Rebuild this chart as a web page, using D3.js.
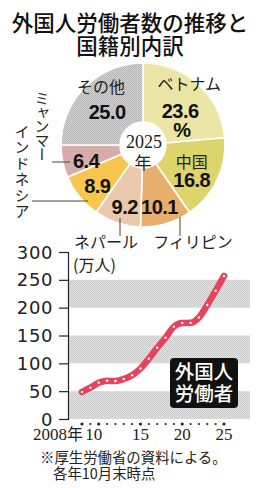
<!DOCTYPE html>
<html><head><meta charset="utf-8">
<script src="https://cdn.jsdelivr.net/npm/d3@7"></script>
<style>
html,body{margin:0;padding:0;background:#fff;}
svg{display:block;}
</style></head>
<body>
<script>
// ---- data ----
const pieCategories = ["ベトナム","中国","フィリピン","ネパール","インドネシア","ミャンマー","その他"];
const pieValues = [23.6,16.8,10.1,9.2,8.9,6.4,25.0];
const pieYear = "2025";
const years = [2008,2009,2010,2011,2012,2013,2014,2015,2016,2017,2018,2019,2020,2021,2022,2023,2024,2025];
const workers = [48.6,56.3,65.0,68.6,68.2,71.8,78.8,90.8,108.4,127.9,146.0,165.9,172.4,172.7,182.3,204.9,230.3,257.0];
const yTicks = [0,50,100,150,200,250,300];
const xTickYears = [2008,2010,2015,2020,2025];
const xTickLabels = ["2008年","10","15","20","25"];

// ---- styles ----
const pieColors = ["#ece6a6","#ddd46c","#e7ae6c","#e9c8ab","#f8c64e","#d6adab","url(#grayPat)"];
const W=259,H=488;
const svg=d3.select("body").append("svg").attr("width",W).attr("height",H);
const defs=svg.append("defs");
function checker(id,a,b){
  const p=defs.append("pattern").attr("id",id).attr("width",2).attr("height",2).attr("patternUnits","userSpaceOnUse");
  p.append("rect").attr("width",2).attr("height",2).attr("fill",a);
  p.append("rect").attr("width",1).attr("height",1).attr("fill",b);
  p.append("rect").attr("x",1).attr("y",1).attr("width",1).attr("height",1).attr("fill",b);
}
checker("grayPat","#d2d2d2","#b6b6b6");
checker("bandPat","#e4e4e4","#c9c9c9");

const JP="'Noto Sans CJK JP','Noto Sans',sans-serif";
const SERIF="'Liberation Serif','DejaVu Serif',serif";
const NUM="'Liberation Sans',Arial,sans-serif";

// title
const title=svg.append("g").attr("font-family",JP).attr("font-weight",500).attr("font-size",21.5).attr("text-anchor","middle").attr("fill","#111");
title.append("text").attr("x",130).attr("y",31).text("外国人労働者数の推移と");
title.append("text").attr("x",130).attr("y",54).text("国籍別内訳");

// ---- pie ----
const cx=143, cy=145, R=82, r0=23;
const pie=d3.pie().sort(null).value(d=>d)(pieValues);
const arc=d3.arc().innerRadius(r0).outerRadius(R);
const color=d3.scaleOrdinal().domain(pieCategories).range(pieColors);
const pg=svg.append("g").attr("transform",`translate(${cx},${cy})`);
pg.selectAll("path").data(pie).join("path")
  .attr("d",arc).attr("fill",(d,i)=>color(pieCategories[i]))
  .attr("stroke","#fff").attr("stroke-width",1.6);

// label placement (offsets from centroid of a label arc)
const labelArc=d3.arc().innerRadius(55).outerRadius(55);
const valOff=[[0,14],[-1,19],[1,16],[-1,17],[-3,13],[-3,12],[3,13]];
const nameOff=[[9,-14],[-1,0],null,null,null,null,[-3,-13]];
pie.forEach((d,i)=>{
  const [x,y]=labelArc.centroid(d);
  const vo=valOff[i];
  pg.append("text").attr("x",x+vo[0]).attr("y",y+vo[1])
    .attr("font-family",NUM).attr("font-weight","bold").attr("font-size",20)
    .attr("text-anchor","middle").attr("letter-spacing",-0.5).attr("fill","#111")
    .text(pieValues[i].toFixed(1));
  if(i===0){
    pg.append("text").attr("x",x+2).attr("y",y+33)
      .attr("font-family",NUM).attr("font-weight","bold").attr("font-size",20)
      .attr("text-anchor","middle").attr("fill","#111").text("%");
  }
  const no=nameOff[i];
  if(no){
    pg.append("text").attr("x",x+no[0]).attr("y",y+no[1])
      .attr("font-family",JP).attr("font-size",16).attr("text-anchor","middle").attr("fill","#222")
      .text(pieCategories[i]);
  }
});
// center
pg.append("text").attr("x",1).attr("y",3).attr("font-family",SERIF).attr("font-size",18).attr("text-anchor","middle").attr("fill","#222").text(pieYear);
pg.append("text").attr("x",0).attr("y",24).attr("font-family",JP).attr("font-size",17).attr("text-anchor","middle").attr("fill","#222").text("年");

// outside labels with leader lines
const lg=svg.append("g").attr("stroke","#444").attr("stroke-width",1);
lg.append("line").attr("x1",120).attr("x2",120).attr("y1",218).attr("y2",236);
lg.append("line").attr("x1",180).attr("x2",180).attr("y1",217).attr("y2",236);
lg.append("line").attr("x1",52).attr("x2",70).attr("y1",162).attr("y2",162);
lg.append("line").attr("x1",32).attr("x2",88).attr("y1",201).attr("y2",201);
svg.append("text").attr("x",106).attr("y",248).attr("font-family",JP).attr("font-size",16).attr("text-anchor","middle").attr("fill","#222").text(pieCategories[3]);
svg.append("text").attr("x",193).attr("y",248).attr("font-family",JP).attr("font-size",16).attr("text-anchor","middle").attr("fill","#222").text(pieCategories[2]);
function vtext(str,x,y0,sz,ls){
  svg.append("text").attr("x",x).attr("y",y0)
    .attr("font-family",JP).attr("font-size",sz).attr("fill","#222")
    .attr("letter-spacing",ls)
    .style("writing-mode","vertical-rl").style("text-orientation","upright")
    .text(str);
}
vtext(pieCategories[5],42,91,15,-1);
vtext(pieCategories[4],22,124,15,1);

// ---- line chart ----
const x=d3.scaleLinear().domain([2008,2025]).range([82,224]);
const y=d3.scaleLinear().domain([0,300]).range([419,252]);
const plotL=68, plotR=250;
const bands=[[0,50],[100,150],[200,250]];
svg.append("g").selectAll("rect").data(bands).join("rect")
  .attr("x",plotL).attr("width",plotR-plotL)
  .attr("y",d=>y(d[1])).attr("height",d=>y(d[0])-y(d[1]))
  .attr("fill","url(#bandPat)");
const yAxis=svg.append("g").attr("transform",`translate(${plotL},0)`)
  .call(d3.axisLeft(y).tickValues(yTicks).tickSize(9).tickPadding(6));
yAxis.select(".domain").attr("stroke","#222").attr("stroke-width",1.2);
yAxis.selectAll(".tick line").attr("stroke","#222").attr("stroke-width",1.2);
yAxis.selectAll("text").attr("font-family","'DejaVu Sans',sans-serif").attr("font-size",18).attr("fill","#222").attr("letter-spacing",0.6).attr("dy","0.34em");
svg.append("text").attr("x",73).attr("y",271).attr("font-family",JP).attr("font-size",16).attr("fill","#222").text("(万人)");

// x tick dots
svg.append("g").selectAll("circle").data(years).join("circle")
  .attr("cx",d=>x(d)).attr("cy",424).attr("r",d=>xTickYears.includes(d)?1.6:1.1).attr("fill","#222");
const xl=svg.append("g").attr("font-family",SERIF).attr("font-size",17).attr("fill","#222");
xTickYears.forEach((yr,i)=>{
  if(i===0){
    const t=xl.append("text").attr("x",x(yr)+1).attr("y",440).attr("text-anchor","end");
    t.append("tspan").text(xTickLabels[0].replace("年",""));
    t.append("tspan").attr("font-family",JP).attr("font-size",16).text("年");
  } else {
    xl.append("text").attr("x",x(yr)+(i===1?-5:0)).attr("y",440).attr("text-anchor","middle").text(xTickLabels[i]);
  }
});

// line
const line=d3.line().x((d,i)=>x(years[i])).y(d=>y(d)).curve(d3.curveMonotoneX);
svg.append("path").attr("d",line(workers)).attr("fill","none").attr("stroke","#e8435d").attr("stroke-width",6.5).attr("stroke-linecap","round").attr("stroke-linejoin","round");
svg.append("g").selectAll("circle").data(workers).join("circle")
  .attr("cx",(d,i)=>x(years[i])).attr("cy",d=>y(d)).attr("r",1.2).attr("fill","#fff");

// label box
svg.append("rect").attr("x",170).attr("y",358).attr("width",68).attr("height",50).attr("rx",4).attr("fill","#111");
const bt=svg.append("g").attr("font-family",JP).attr("font-weight",500).attr("font-size",19.5).attr("fill","#fff").attr("text-anchor","middle");
bt.append("text").attr("x",204).attr("y",379).text("外国人");
bt.append("text").attr("x",204).attr("y",401).text("労働者");

// footnote
const fn=svg.append("g").attr("font-family",JP).attr("font-size",14.4).attr("fill","#222");
fn.append("text").attr("x",40).attr("y",463).text("※厚生労働省の資料による。");
fn.append("text").attr("x",53).attr("y",479).text("各年10月末時点");
</script>
</body></html>
